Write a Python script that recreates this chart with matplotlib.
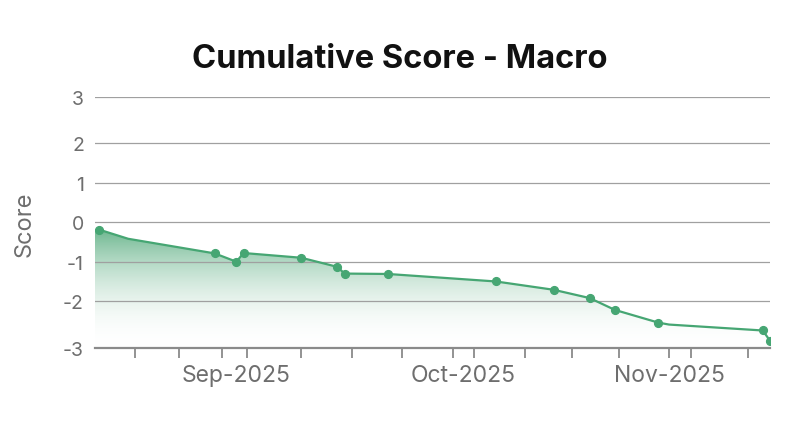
import matplotlib
matplotlib.use("Agg")
import matplotlib.pyplot as plt
import matplotlib.dates as mdates
from matplotlib.colors import LinearSegmentedColormap
import numpy as np
import pandas as pd

plt.rcParams['font.family'] = ['Inter', 'DejaVu Sans']

# data
dates = ["2025-08-10", "2025-08-14", "2025-08-26", "2025-08-29", "2025-08-30",
         "2025-09-07", "2025-09-12", "2025-09-13", "2025-09-19", "2025-10-04",
         "2025-10-12", "2025-10-17", "2025-10-20 12:00", "2025-10-26 12:00", "2025-10-28",
         "2025-11-10", "2025-11-11"]
scores = [-0.19, -0.42, -0.79, -1.00, -0.78,
          -0.90, -1.13, -1.30, -1.31, -1.50,
          -1.71, -1.92, -2.22, -2.54, -2.59,
          -2.74, -3.00]
# points where a marker is drawn (two bends in the line carry no marker)
has_marker = [True, False, True, True, True,
              True, True, True, True, True,
              True, True, True, True, False,
              True, True]

tick_dates = ["2025-08-15", "2025-08-21", "2025-08-27", "2025-08-30 12:00", "2025-09-07",
              "2025-09-14", "2025-09-21", "2025-09-28", "2025-10-01", "2025-10-08",
              "2025-10-14 12:00", "2025-10-21", "2025-10-28", "2025-10-31", "2025-11-08"]
month_labels = ["Sep-2025", "Oct-2025", "Nov-2025"]
month_label_dates = ["2025-08-29", "2025-09-29 12:00", "2025-10-28"]

y_ticks = [-2, -1, 0, 1, 2]
y_min, y_max = -3.19, 3.16


def to_num(strs):
    return mdates.date2num(pd.to_datetime(strs, format="mixed"))


x = to_num(dates)
y = np.array(scores)

fig = plt.figure(figsize=(8, 4.31), dpi=100)
ax = fig.add_axes([0.11875, 0.1896, 0.84375, 0.5824])

green = "#46a673"

# gradient fill under the line
cmap = LinearSegmentedColormap.from_list("g", [(1, 1, 1, 0), (0.23, 0.62, 0.41, 0.74)])
grad = np.linspace(0, 1, 256).reshape(-1, 1)
x_left = x[0] - 0.6
im = ax.imshow(grad, aspect="auto", cmap=cmap, origin="lower",
               extent=[x_left, x[-1], y_min, y.max()], zorder=1)
poly = ax.fill_between(np.r_[x_left, x], np.r_[y[0], y], y_min, color="none")
clip = poly.get_paths()[0]
im.set_clip_path(clip, transform=ax.transData)

ax.plot(x, y, color=green, lw=1.6, zorder=3)
mk = np.array(has_marker)
ax.plot(x[mk], y[mk], "o", color=green, ms=5.6, zorder=4)

ax.set_xlim(x_left, x[-1])
ax.set_ylim(y_min, y_max)

ax.set_yticks([y_min] + y_ticks + [y_max])
ax.set_yticklabels(["-3"] + [str(t) for t in y_ticks] + ["3"])
ax.tick_params(axis="y", length=0, pad=8, labelsize=14, labelcolor="#6e6e6e")
ax.grid(axis="y", color="#a0a0a0", lw=0.9, zorder=0)

ax.set_xticks(to_num(tick_dates))
ax.set_xticklabels([])
ax.tick_params(axis="x", length=7, width=1.3, color="#8a8a8a", direction="out")
for d, lab in zip(to_num(month_label_dates), month_labels):
    ax.text(d, -0.105, lab, transform=ax.get_xaxis_transform(),
            ha="center", va="center", fontsize=16.5, color="#6e6e6e")

for s in ["top", "right", "left"]:
    ax.spines[s].set_visible(False)
ax.spines["bottom"].set_color("#8a8a8a")
ax.spines["bottom"].set_linewidth(1.6)
ax.spines["bottom"].set_zorder(5)

ax.set_ylabel("Score", fontsize=17, color="#6e6e6e", labelpad=20)
fig.text(0.5, 0.862, "Cumulative Score - Macro", ha="center", va="center",
         fontsize=23.5, fontweight="bold", color="#111111")

fig.savefig("out.png", dpi=100)
